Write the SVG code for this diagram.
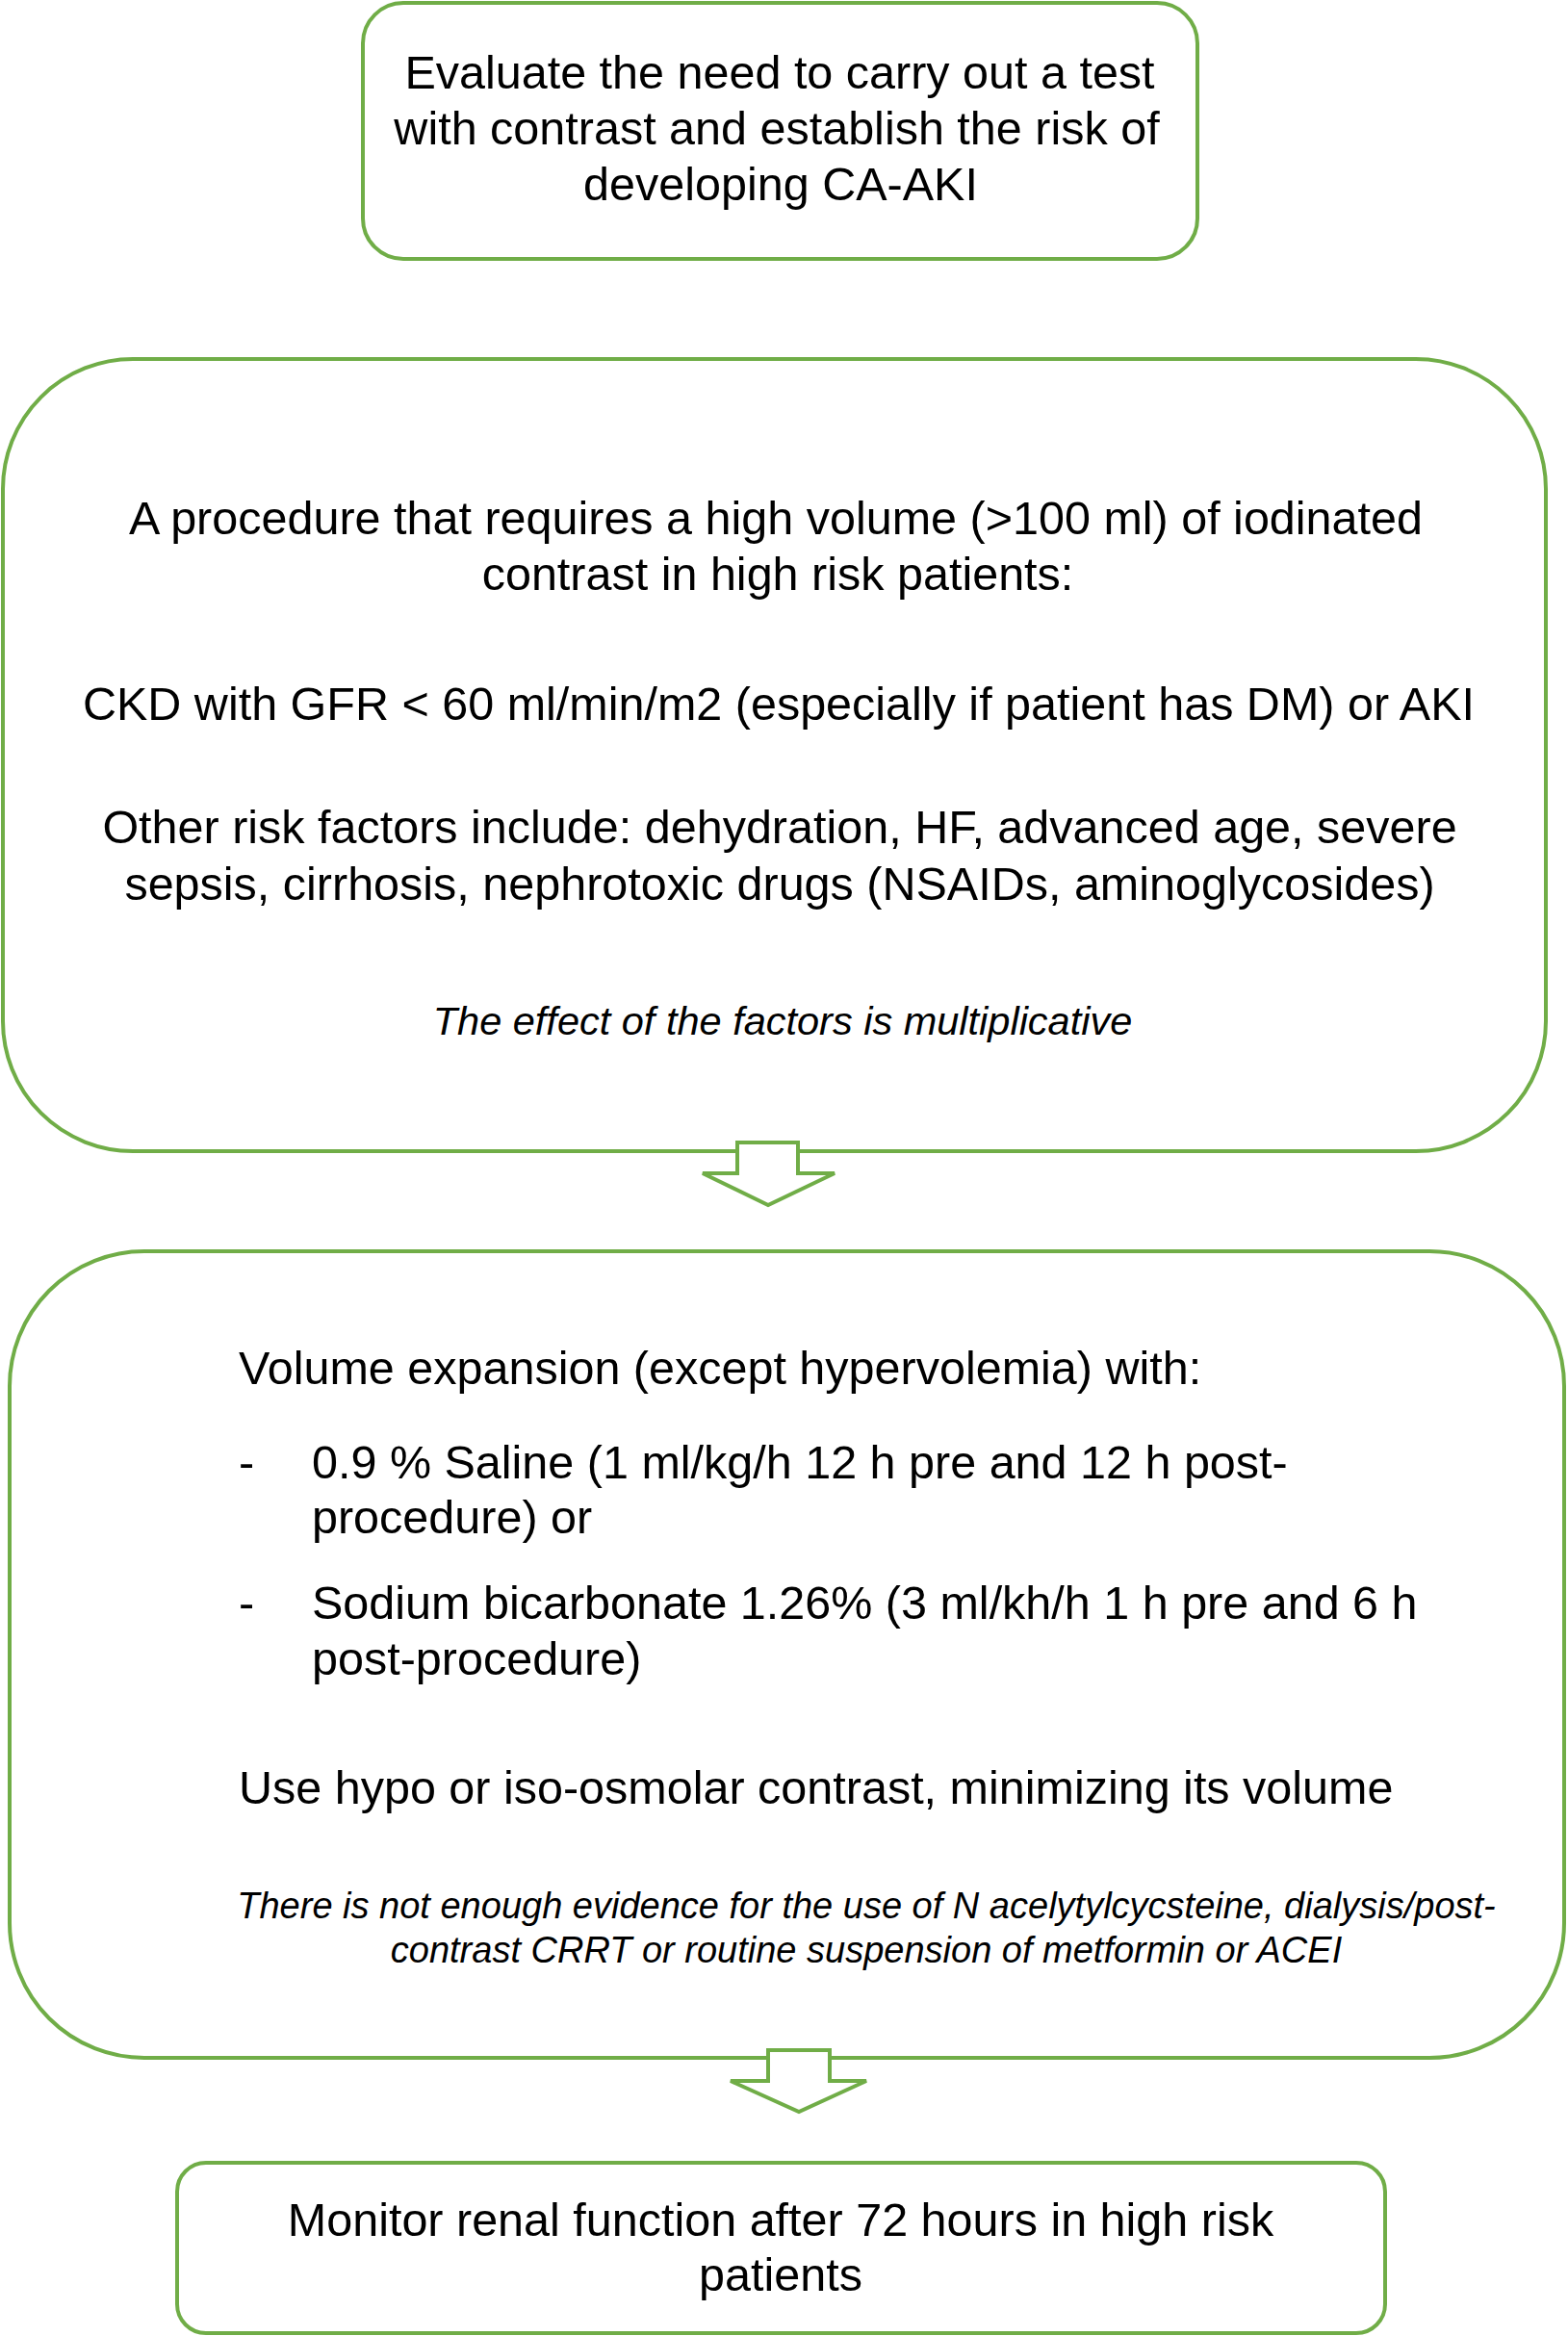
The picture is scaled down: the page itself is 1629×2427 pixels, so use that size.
<svg xmlns="http://www.w3.org/2000/svg" width="1629" height="2427" viewBox="0 0 1629 2427">
<style>
.box{fill:#fff;stroke:#70AD47;stroke-width:4}
.arr{fill:#fff;stroke:#70AD47;stroke-width:4;stroke-linejoin:miter}
.t{font-family:"Liberation Sans",Arial,sans-serif;font-size:48.5px;fill:#000}
.c{text-anchor:middle}
.i2{font-family:"Liberation Sans",Arial,sans-serif;font-size:41.5px;font-style:italic;fill:#000;text-anchor:middle}
.i3{font-family:"Liberation Sans",Arial,sans-serif;font-size:38px;font-style:italic;fill:#000;text-anchor:middle}
</style>
<rect width="1629" height="2427" fill="#fff"/>
<g id="node-evaluate">
<rect class="box" x="377" y="3" width="867" height="266" rx="42" ry="42"/>
<text class="t c" x="810" y="92">Evaluate the need to carry out a test</text>
<text class="t c" x="807" y="150">with contrast and establish the risk of</text>
<text class="t c" x="811" y="208">developing CA-AKI</text>
</g>
<g id="node-risk">
<rect class="box" x="3" y="373" width="1603" height="823" rx="135" ry="135"/>
<text class="t c" x="806" y="555">A procedure that requires a high volume (&gt;100 ml) of iodinated</text>
<text class="t c" x="808" y="613">contrast in high risk patients:</text>
<text class="t c" x="809" y="748">CKD with GFR &lt; 60 ml/min/m2 (especially if patient has DM) or AKI</text>
<text class="t c" x="810" y="876">Other risk factors include: dehydration, HF, advanced age, severe</text>
<text class="t c" x="810" y="935">sepsis, cirrhosis, nephrotoxic drugs (NSAIDs, aminoglycosides)</text>
<text class="i2" x="813" y="1075">The effect of the factors is multiplicative</text>
</g>
<g id="node-prevention">
<rect class="box" x="10" y="1300" width="1615" height="838" rx="140" ry="140"/>
<text class="t" x="248" y="1438">Volume expansion (except hypervolemia) with:</text>
<text class="t" x="248" y="1536">-</text>
<text class="t" x="324" y="1536">0.9 % Saline (1 ml/kg/h 12 h pre and 12 h post-</text>
<text class="t" x="324" y="1593">procedure) or</text>
<text class="t" x="248" y="1682">-</text>
<text class="t" x="324" y="1682">Sodium bicarbonate 1.26% (3 ml/kh/h 1 h pre and 6 h</text>
<text class="t" x="324" y="1740">post-procedure)</text>
<text class="t" x="248" y="1874">Use hypo or iso-osmolar contrast, minimizing its volume</text>
<text class="i3" x="900" y="1993">There is not enough evidence for the use of N acelytylcycsteine, dialysis/post-</text>
<text class="i3" x="900" y="2039">contrast CRRT or routine suspension of metformin or ACEI</text>
</g>
<g id="node-monitor">
<rect class="box" x="184" y="2247" width="1255" height="177" rx="30" ry="30"/>
<text class="t c" x="811" y="2323">Monitor renal function after 72 hours in high risk</text>
<text class="t c" x="811" y="2380">patients</text>
</g>
<g id="connectors">
<path class="arr" d="M766,1187 L829,1187 L829,1219 L867,1219 L798,1252 L730,1219 L766,1219 Z"/>
<path class="arr" d="M798,2130 L862,2130 L862,2162 L900,2162 L830,2194 L759,2162 L798,2162 Z"/>
</g>
</svg>
